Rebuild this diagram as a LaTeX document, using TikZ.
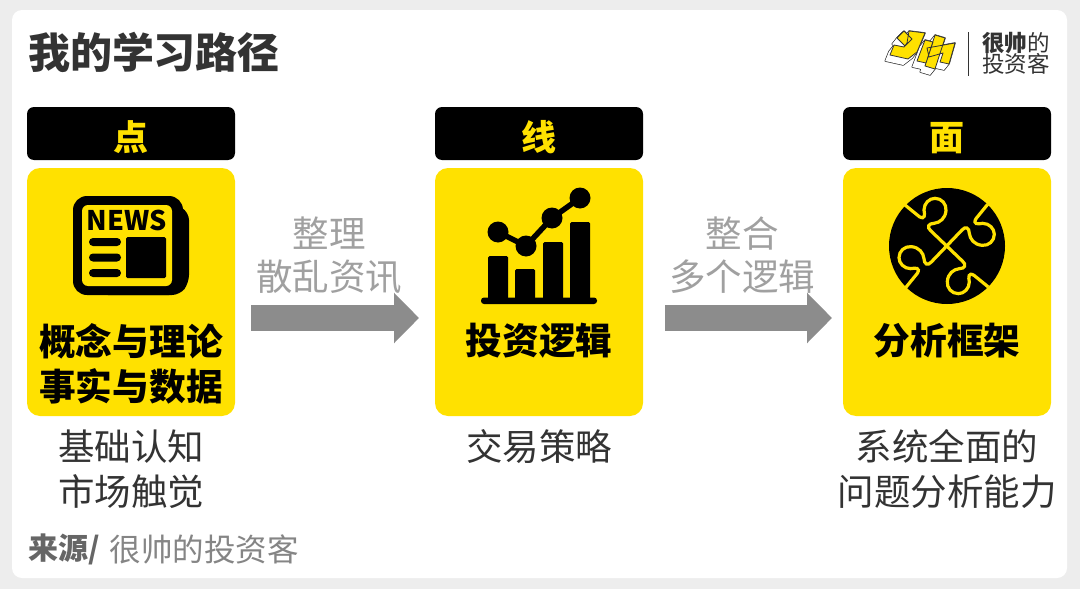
\documentclass[tikz,border=0pt]{standalone}
\usepackage{fontspec}
\setmainfont{Noto Sans CJK SC}
\usetikzlibrary{positioning,arrows.meta}
\definecolor{signyellow}{HTML}{FFE100}
\definecolor{inkgray}{HTML}{333333}
\definecolor{arrowgray}{HTML}{8C8C8C}
\definecolor{notegray}{HTML}{A0A0A0}
\newcommand{\logostrokes}{(909,31) -- (925,33) -- (917,52) -- (908,59) -- (890,55) -- (894,45) -- (904,47) -- (907,43) -- cycle
    (897,38) -- (904,31) -- (912,39) -- (905,46) -- cycle
    (925,40) -- (933,42) -- (926,63) -- (917,61) -- cycle
    (935,35) -- (945,38) -- (935,69) -- (925,66) -- cycle
    (927,48) -- (955,43) -- (949,64) -- (940,62) -- (943,53) -- (929,57) -- cycle}

\begin{document}
\begin{tikzpicture}[x=1pt,y=-1pt,node distance=8pt,>=latex,outer sep=0pt]

\tikzstyle{headbox}=[fill=black,text=signyellow,rounded corners=7pt,minimum width=208pt,minimum height=53pt,inner sep=0pt,text height=33pt,text depth=0pt,font=\fontsize{35}{35}\selectfont\bfseries]
\tikzstyle{cardbox}=[fill=signyellow,rounded corners=13pt,minimum width=208pt,minimum height=248pt,inner sep=0pt]
\tikzstyle{cardtext}=[align=center,inner sep=0pt,font=\fontsize{36.7}{45}\selectfont\bfseries]
\tikzstyle{plain}=[align=center,inner sep=0pt,text=inkgray,font=\fontsize{36.5}{45}\selectfont]
\tikzstyle{note}=[align=center,inner sep=0pt,text=notegray,font=\fontsize{36.5}{43}\selectfont]
\tikzstyle{bigarrow}=[draw=arrowgray,line width=26pt,-{Triangle[length=25pt,width=49pt]}]

    \useasboundingbox (0,0) rectangle (1080,589);
    \fill[black!7] (0,0) rectangle (1080,589);
    \fill[white,rounded corners=10pt] (12,10) rectangle (1067,578);

    \node[anchor=west,inner sep=0pt,text=inkgray,font=\fontsize{42}{42}\selectfont\bfseries] (title) at (28,52) {我的学习路径};

    % logo
    \foreach \s in {0,...,6}
        \draw[inkgray,line width=1.4pt,line join=round,shift={(-\s*0.8,\s)}] \logostrokes;
    \foreach \s in {0,...,6}
        \fill[white,shift={(-\s*0.8,\s)}] \logostrokes;
    \filldraw[fill=signyellow,draw=inkgray,line width=0.8pt,line join=round] \logostrokes;
    \draw[inkgray,line width=1pt] (968.5,32) -- (968.5,76);
    \node[anchor=west,inner sep=0pt,text=inkgray,font=\fontsize{22.5}{22.5}\selectfont] (brandtop) at (982,43) {\textbf{很帅}的};
    \node[anchor=west,inner sep=0pt,text=inkgray,font=\fontsize{22.5}{22.5}\selectfont] (brandbot) at (982,64) {投资客};

    % three columns
    \node[headbox] (headdian) at (131,133.5) {点};
    \node[cardbox,below=8pt of headdian] (dian) {};
    \node[headbox,right=200pt of headdian] (headxian) {线};
    \node[cardbox,below=8pt of headxian] (xian) {};
    \node[headbox,right=200pt of headxian] (headmian) {面};
    \node[cardbox,below=8pt of headmian] (mian) {};

    \node[cardtext] (dianlabel) at (131,364) {概念与理论\\事实与数据};
    \node[cardtext] (xianlabel) at (539,341) {投资逻辑};
    \node[cardtext] (mianlabel) at (947,341) {分析框架};

    \node[plain] (diannote) at (131,469) {基础认知\\市场触觉};
    \node[plain] (xiannote) at (539,447) {交易策略};
    \node[plain] (miannote) at (947,469) {系统全面的\\问题分析能力};

    % arrows
    \draw[bigarrow] ([shift={(16,26)}]dian.east) -- ([shift={(-16,26)}]xian.west);
    \draw[bigarrow] ([shift={(22,26)}]xian.east) -- ([shift={(-11,26)}]mian.west);
    \node[note] (stepone) at (329,255) {整理\\散乱资讯};
    \node[note] (steptwo) at (742,255) {整合\\多个逻辑};

    % news icon
    \fill[black,rounded corners=8pt] (150,200) -- (175,204) -- (189,212) -- (189,283) -- (180,295) -- (100,295) -- (100,250) -- cycle;
    \fill[black,rounded corners=14pt] (73,196) rectangle (183,295);
    \fill[signyellow,rounded corners=6pt] (82,205) rectangle (172,286);
    \node[inner sep=0pt,font=\fontsize{27}{27}\selectfont\bfseries] (newsword) at (127,220.5) {NEWS};
    \fill[black,rounded corners=4pt] (89,238) rectangle (121,246);
    \fill[black,rounded corners=4pt] (89,253.5) rectangle (121,261.5);
    \fill[black,rounded corners=4pt] (89,269) rectangle (121,277);
    \fill[black,rounded corners=1.5pt] (126,237) rectangle (166,278);

    % chart icon
    \foreach \xa/\ya in {488/256,515/269,543/242,570/222}
        \fill[black,rounded corners=1.5pt] (\xa,\ya) rectangle (\xa+20,302);
    \fill[black,rounded corners=3pt] (481,297.5) rectangle (597,304);
    \draw[black,line width=5.5pt] (498,232) -- (526,246) -- (552,218) -- (580,198);
    \foreach \xa/\ya in {498/232,526/246,552/218,580/198}
        \fill[black] (\xa,\ya) circle (10.5);

    % puzzle icon
    \fill[black] (947,246) circle (58);
    \begin{scope}[shift={(860,170)},x=0.3333pt,y=-0.3333pt]
    \foreach \ang in {0,90,180,270}
        \draw[signyellow,line width=3.2pt,rotate around={\ang:(260,228)}] (135,105) -- (178,140) .. controls (195,150) and (195,135) .. (192,120) .. controls (192,100) and (208,85) .. (225,85) .. controls (245,85) and (260,102) .. (258,122) .. controls (256,145) and (240,158) .. (222,160) .. controls (205,160) and (200,172) .. (212,182) -- (260,228);
    \end{scope}

    % source line
    \node[anchor=west,inner sep=0pt,text=black!60,font=\fontsize{30}{30}\selectfont\bfseries] (srcword) at (28,549) {来源/};
    \node[inner sep=0pt,text=black!48,font=\fontsize{31.5}{31.5}\selectfont,right=10pt of srcword] (srcname) {很帅的投资客};

\end{tikzpicture}
\end{document}
